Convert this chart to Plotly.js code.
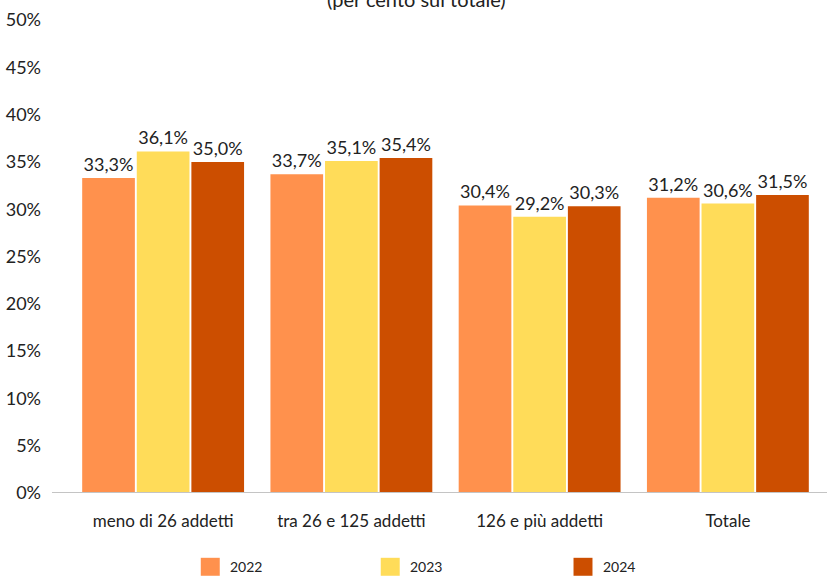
<!DOCTYPE html>
<html>
<head>
<meta charset="utf-8">
<script src="https://cdn.plot.ly/plotly-3.0.1.min.js"></script>
<style>html,body{margin:0;padding:0;background:#fff;}#chart{width:827px;height:576px;}</style>
</head>
<body>
<div id="chart"></div>
<script>
const categories = ["meno di 26 addetti", "tra 26 e 125 addetti", "126 e più addetti", "Totale"];
const seriesNames = ["2022", "2023", "2024"];
const values2022 = [33.3, 33.7, 30.4, 31.2];
const values2023 = [36.1, 35.1, 29.2, 30.6];
const values2024 = [35.0, 35.4, 30.3, 31.5];
const colors = ["#FF914D", "#FFDC59", "#CC4E00"];
const yTickVals = [0, 5, 10, 15, 20, 25, 30, 35, 40, 45, 50];
const subtitle = "(per cento sul totale)";

const FONT = "Lato, 'Noto Sans', sans-serif";
const allVals = [values2022, values2023, values2024];
const traces = allVals.map((v, i) => ({
  type: "bar",
  x: categories,
  y: v,
  name: seriesNames[i],
  marker: {color: colors[i], line: {width: 0}},
  text: v,
  texttemplate: "%{y:.1f}%",
  textposition: "outside",
  cliponaxis: false,
  textfont: {family: FONT, size: 18, color: "#222"},
  showlegend: false,
  hoverinfo: "skip"
}));

// custom legend (swatches + labels)
const legendX = [0.175, 0.414, 0.67];
const shapes = [];
const annotations = [];
seriesNames.forEach((n, i) => {
  shapes.push({type: "rect", xref: "paper", yref: "paper",
    x0: legendX[i], x1: legendX[i] + 0.0252, y0: -0.137, y1: -0.175,
    fillcolor: colors[i], line: {width: 0}});
  annotations.push({xref: "paper", yref: "paper", x: legendX[i] + 0.036, y: -0.156,
    text: n, showarrow: false, xanchor: "left", yanchor: "middle",
    font: {family: FONT, size: 14, color: "#222"}});
});
// baseline
shapes.push({type: "line", xref: "paper", yref: "y", x0: -0.0226, x1: 1.01, y0: 0, y1: 0,
  line: {color: "#C4C4C4", width: 2}});
annotations.push({xref: "paper", yref: "paper", x: 0.462, y: 1.014, text: subtitle,
  showarrow: false, xanchor: "center", yanchor: "bottom",
  font: {family: FONT, size: 20, color: "#222"}});

const layout = {
  width: 827, height: 576,
  margin: {l: 69, r: 5, t: 20, b: 83},
  paper_bgcolor: "#fff", plot_bgcolor: "#fff",
  barmode: "group", bargap: 0.13, bargroupgap: 0.035,
  separators: ",.",
  font: {family: FONT, color: "#222"},
  xaxis: {showline: false, showgrid: false, zeroline: false, ticks: "",
    tickfont: {family: FONT, size: 17, color: "#222"}, ticklabelstandoff: 16},
  yaxis: {range: [0, 50], tickvals: yTickVals, ticktext: yTickVals.map(t => t + "%"),
    showgrid: false, zeroline: false, showline: false, ticks: "",
    tickfont: {family: FONT, size: 18, color: "#222"}, ticklabelstandoff: 27},
  shapes: shapes,
  annotations: annotations,
  showlegend: false
};
Plotly.newPlot("chart", traces, layout, {displayModeBar: false, staticPlot: true});
</script>
</body>
</html>
